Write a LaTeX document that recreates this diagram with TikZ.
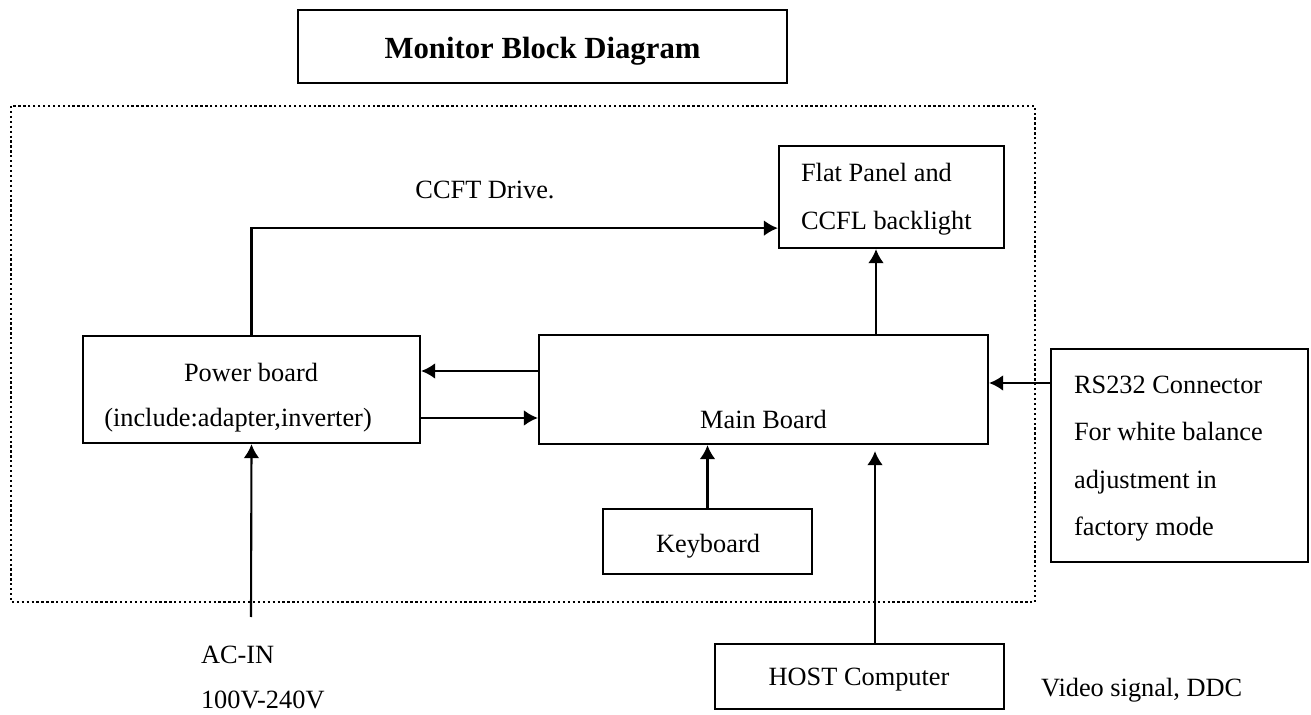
\documentclass[tikz,border=0pt]{standalone}
\usepackage{fontspec}
\setmainfont{Liberation Serif}
\usetikzlibrary{arrows.meta}

\tikzset{
  block/.style={draw,line width=1.3pt,inner sep=0pt},
  txt/.style={inner sep=0pt,align=left},
}

\begin{document}
\begin{tikzpicture}[x=0.02cm,y=-0.02cm,->,>={Latex[length=8pt,width=9pt]},line width=1.2pt,
    font=\fontsize{15}{27}\selectfont]

\useasboundingbox (0,0) rectangle (1311,715);

% monitor housing
\draw [-,line width=1.3pt,dash pattern=on 1.3pt off 1.5pt] (11,106) rectangle (1035,602);

\node (title) [block,minimum width=9.78cm,minimum height=1.46cm] at (542.5,46.5) {};
\node (flat) [block,minimum width=4.5cm,minimum height=2.04cm] at (891.5,197) {};
\node (pwr) [block,minimum width=6.74cm,minimum height=2.14cm] at (251.5,389.5) {};
\node (mb) [block,minimum width=8.98cm,minimum height=2.18cm] at (763.5,389.5) {};
\node (kb) [block,minimum width=4.18cm,minimum height=1.3cm] at (707.5,541.5) {};
\node (host) [block,minimum width=5.78cm,minimum height=1.3cm] at (859.5,676.5) {};
\node (rs) [block,minimum width=5.14cm,minimum height=4.26cm] at (1179.5,455.5) {};
\node (acin) [coordinate] at (251,617) {};
\coordinate (rsin) at ([yshift=0.13cm]mb.east);
\coordinate (hostin) at ([xshift=0.31cm,yshift=-0.12cm]host.north |- mb.south);

\draw (pwr.north) |- ([yshift=0.42cm]flat.south west);
\draw ([xshift=-0.31cm]flat.south |- mb.north) -- ([xshift=-0.31cm]flat.south);
\path [->]
    ([yshift=0.37cm]mb.west) edge ([yshift=0.37cm]pwr.east)
    ([yshift=-0.57cm]pwr.east) edge ([yshift=-0.57cm]mb.west)
    (rs.west |- rsin) edge (rsin)
    (kb.north) edge (kb.north |- mb.south)
    ([xshift=0.31cm]host.north) edge (hostin)
    (acin) edge (pwr.south)
;

\node (titletext) [txt,font=\fontsize{17.5}{21}\selectfont\bfseries] at (542.5,51) {Monitor Block Diagram};
\node (ccft) [txt] at (485,190) {CCFT Drive.};
\node (flattext) [txt,anchor=west] at (800,199) {Flat Panel and\\CCFL backlight};
\node (pwrname) [txt] at (251,372) {Power board};
\node (pwrnote) [txt] at (238,420) {(include:adapter,inverter)};
\node (mbtext) [txt] at (763.5,419) {Main Board};
\node (kbtext) [txt] at (708,546) {Keyboard};
\node (hosttext) [txt] at (859,680) {HOST Computer};
\node (rstext) [txt,anchor=west] at (1073,458.5) {RS232 Connector\\For white balance\\adjustment in\\factory mode};
\node (actext) [txt,anchor=west] at (200,655) {AC-IN};
\node (voltext) [txt,anchor=west] at (200,700) {100V-240V};
\node (video) [txt,anchor=west] at (1040,690) {Video signal, DDC};

\end{tikzpicture}
\end{document}
